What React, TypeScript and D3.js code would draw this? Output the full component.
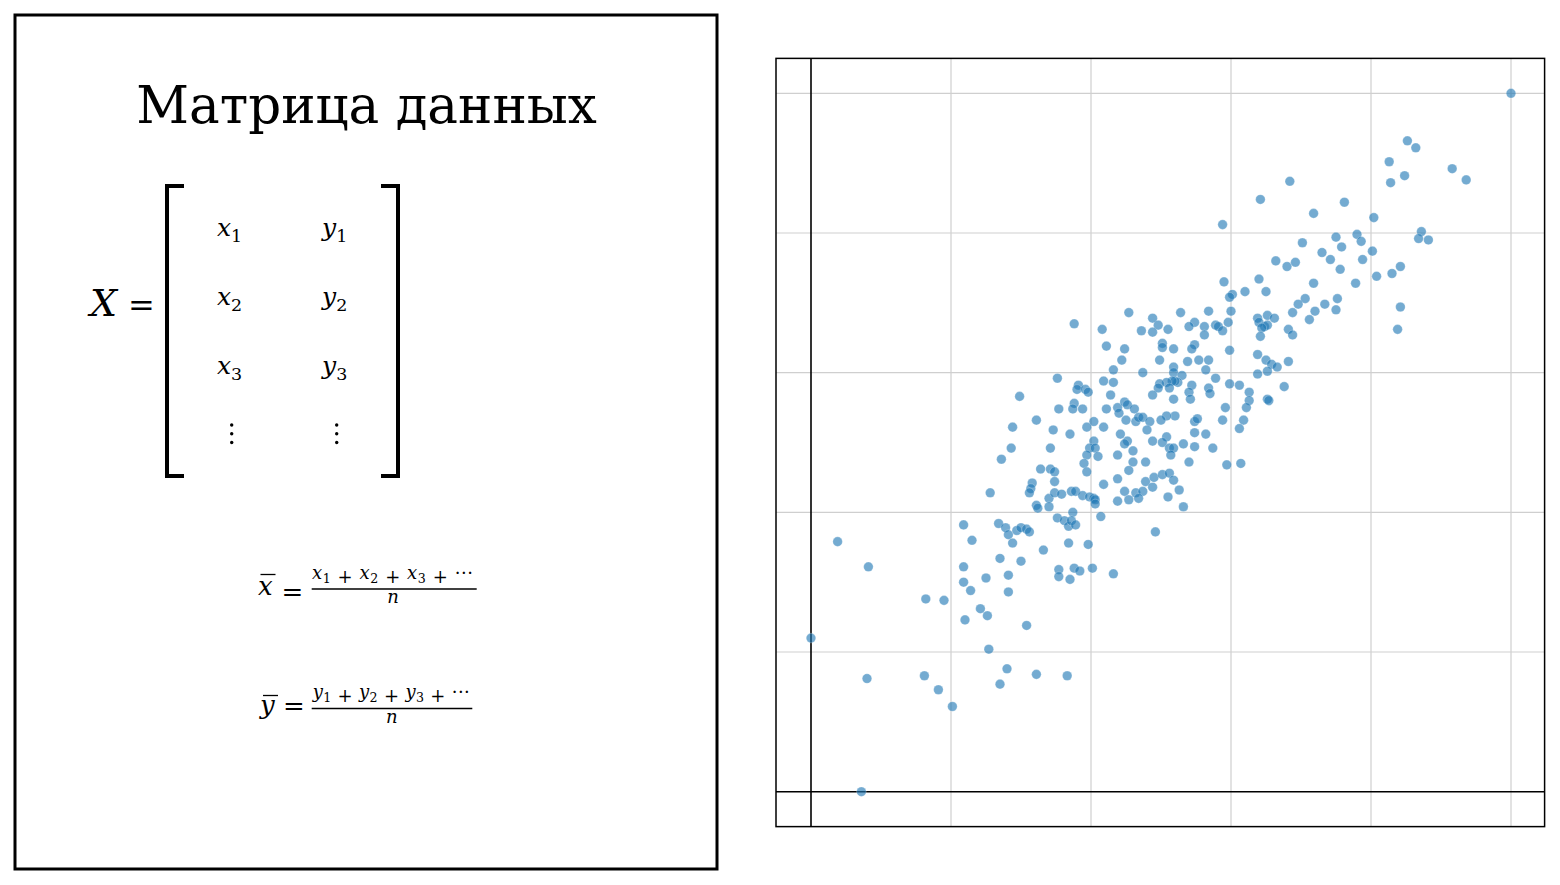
import React from "react";
import * as d3 from "d3";

// ---- data (scaled feature values) ----
const featureX: number[] = [
  5.00,4.26,4.32,4.13,4.24,4.14,4.58,4.68,3.81,3.59,4.02,3.75,3.90,3.93,3.79,3.51,3.65,3.71,3.94,4.01,4.36,4.34,4.41,4.21,4.15,4.04,3.78,3.59,3.89,3.53,3.48,3.76,3.67,3.60,3.75,3.56,4.21,4.19,
  3.42,3.21,2.94,3.32,3.40,3.46,2.95,3.20,3.25,3.10,3.01,2.99,
  2.64,2.84,3.00,2.44,2.48,2.44,2.55,2.74,2.70,2.81,2.89,2.91,2.98,2.94,2.81,2.51,2.51,2.59,2.74,2.72,2.99,2.49,2.59,2.69,2.77,2.84,2.82,2.59,2.65,2.62,2.60,2.58,2.54,2.49,2.48,2.56,2.72,2.89,2.99,3.06,2.44,2.59,2.70,2.71,2.84,2.85,2.96,3.13,3.13,3.11,3.09,3.06,2.94,2.74,2.76,2.60,2.54,2.50,2.74,2.82,2.54,2.51,2.56,2.59,2.66,2.74,2.87,2.44,2.57,2.70,
  3.19,3.20,3.26,3.31,3.24,3.26,3.22,3.21,3.41,3.44,3.44,3.19,3.25,3.29,3.33,3.26,3.19,3.41,3.38,3.26,3.27,
  2.27,1.88,2.08,2.36,2.11,2.24,2.22,2.16,2.37,1.76,2.09,2.16,1.91,1.90,1.96,1.98,1.49,2.14,1.88,1.87,1.94,1.77,2.11,2.19,2.24,2.26,2.31,2.20,1.61,2.02,2.09,1.97,1.73,1.85,2.25,2.32,2.34,2.37,2.42,2.40,2.21,1.44,2.26,2.24,2.30,1.43,1.71,2.02,1.99,2.03,1.97,2.05,2.19,1.36,
  1.64,1.71,1.74,1.95,2.30,2.39,2.27,1.97,1.74,2.19,2.39,2.09,2.44,1.58,1.57,1.56,1.28,2.24,2.32,2.37,2.34,2.27,2.19,1.70,1.74,1.79,1.86,1.89,1.94,1.99,2.02,2.03,2.03,2.07,1.61,1.62,1.70,1.87,1.76,1.81,1.84,1.86,1.89,1.09,1.34,1.39,1.41,1.47,1.50,1.54,1.56,1.44,1.15,1.66,1.84,1.98,1.35,1.50,1.09,1.25,1.41,1.77,1.77,1.85,1.88,1.92,2.01,2.16,1.09,1.14,1.41,
  2.97,3.07,2.45,2.51,2.56,2.59,2.63,2.55,2.66,2.46,
  0.19,0.41,0.82,0.95,1.21,1.26,1.10,1.54,0.00,1.27,1.40,1.61,1.83,0.40,0.81,1.35,0.91,1.01,0.36,
];

const featureY: number[] = [
  5.00,4.66,4.61,4.51,4.41,4.36,4.46,4.38,4.22,4.14,4.11,3.97,3.99,3.94,3.90,3.93,3.86,3.81,3.81,3.87,4.01,3.96,3.95,3.76,3.71,3.69,3.74,3.64,3.64,3.53,3.49,3.53,3.49,3.44,3.45,3.38,3.47,3.31,
  4.37,4.24,4.06,3.80,3.76,3.79,3.65,3.67,3.58,3.58,3.56,3.54,
  3.43,3.44,3.44,3.39,3.34,3.29,3.31,3.36,3.33,3.33,3.34,3.33,3.36,3.30,3.27,3.21,3.18,3.17,3.20,3.17,3.16,3.09,3.04,3.08,3.09,3.09,3.02,3.00,2.98,2.93,2.94,2.94,2.93,2.92,2.89,2.89,2.91,2.96,2.92,2.91,2.84,2.81,2.86,2.81,2.89,2.85,2.75,2.86,2.80,2.75,2.66,2.60,2.66,2.65,2.67,2.69,2.69,2.66,2.57,2.56,2.54,2.50,2.46,2.46,2.49,2.47,2.46,2.51,2.41,2.36,
  3.39,3.36,3.41,3.39,3.33,3.34,3.32,3.26,3.31,3.27,3.43,3.13,3.09,3.06,3.04,3.01,2.99,3.08,2.90,2.81,2.80,
  3.43,3.35,3.31,3.30,3.19,3.17,3.09,3.02,3.00,2.96,2.94,2.93,2.91,2.88,2.88,2.86,2.83,2.84,2.78,2.74,2.74,2.74,2.74,2.75,2.79,2.77,2.74,2.71,2.66,2.65,2.61,2.61,2.59,2.56,2.66,2.65,2.68,2.68,2.65,2.59,2.56,2.61,2.51,2.49,2.44,2.46,2.46,2.51,2.46,2.46,2.41,2.40,2.41,2.38,
  2.31,2.31,2.29,2.35,2.36,2.36,2.30,2.29,2.22,2.24,2.22,2.20,2.18,2.21,2.17,2.14,2.14,2.15,2.14,2.15,2.10,2.09,2.08,2.10,2.14,2.13,2.15,2.15,2.12,2.11,2.10,2.09,2.06,1.97,2.05,2.03,2.04,2.00,1.96,1.94,1.90,1.94,1.91,1.91,1.92,1.89,1.84,1.87,1.89,1.88,1.86,1.78,1.80,1.73,1.78,1.77,1.67,1.65,1.61,1.53,1.55,1.59,1.54,1.52,1.60,1.58,1.60,1.56,1.50,1.44,1.43,
  2.34,2.35,2.25,2.27,2.28,2.23,2.16,2.11,2.04,1.86,
  1.79,1.61,1.38,1.37,1.31,1.26,1.23,1.19,1.10,1.02,0.88,0.84,0.83,0.81,0.83,0.77,0.73,0.61,0.00,
];

const gridTicks: number[] = [1, 2, 3, 4, 5];
const titleText = "Матрица данных";
const matrixRows: string[] = ["1", "2", "3"];
const matrixCols: string[] = ["x", "y"];

const W = 1560;
const H = 885;
const MATH = "'DejaVu Serif', serif";

function Sub({ v, s, x, y, size }: { v: string; s: string; x: number; y: number; size: number }) {
  return (
    <text x={x} y={y} fontFamily={MATH} fontSize={size}>
      <tspan fontStyle="italic">{v}</tspan>
      <tspan fontSize={size * 0.7} dy={size * 0.22}>{s}</tspan>
    </text>
  );
}

function Numerator({ v, x, y, size, len }: { v: string; x: number; y: number; size: number; len: number }) {
  const d = size * 0.22;
  const parts: React.ReactNode[] = [];
  matrixRows.forEach((s, i) => {
    parts.push(<tspan key={"v" + i} fontStyle="italic" dy={i === 0 ? 0 : -d}>{v}</tspan>);
    parts.push(<tspan key={"s" + i} fontSize={size * 0.7} dy={d}>{s}</tspan>);
    parts.push(<tspan key={"p" + i} dy={0}>{" + "}</tspan>);
  });
  parts.push(<tspan key="dots" dy={-d}>{"···"}</tspan>);
  return (
    <text x={x} y={y} fontFamily={MATH} fontSize={size} textLength={len} lengthAdjust="spacing">
      {parts}
    </text>
  );
}

export default function App() {
  const xScale = d3.scaleLinear().domain([0, 5]).range([811, 1511]);
  const yScale = d3.scaleLinear().domain([0, 5]).range([791.7, 93.3]);
  const fx0 = xScale(-0.25), fx1 = xScale(5.24);
  const fy0 = yScale(5.25), fy1 = yScale(-0.25);

  const points = featureX.map((v, i) => ({ x: v, y: featureY[i] }));

  const rowY = d3.scaleLinear().domain([0, 1]).range([236, 305]);
  const colX = [217, 322];

  return (
    <svg width={W} height={H} style={{ position: "absolute", left: 0, top: 0, background: "#fff" }}>
      <rect x={0} y={0} width={W} height={H} fill="#fff" />

      {/* Left panel */}
      <rect x={15} y={15} width={702} height={854} fill="none" stroke="#000" strokeWidth={3} />
      <text x={366.5} y={123} textAnchor="middle" fontFamily="'DejaVu Serif', serif" fontSize={51.5}>
        {titleText}
      </text>

      <text x={90} y={316} fontFamily={MATH} fontSize={38} fontStyle="italic">X</text>
      <text x={141.5} y={315.5} textAnchor="middle" fontFamily={MATH} fontSize={32}>=</text>

      <path d="M184,186 H167 V476 H184" fill="none" stroke="#000" strokeWidth={4} />
      <path d="M381,186 H398 V476 H381" fill="none" stroke="#000" strokeWidth={4} />

      {matrixRows.map((s, r) =>
        matrixCols.map((c, k) => (
          <Sub key={r + c} v={c} s={s} x={colX[k]} y={rowY(r)} size={25} />
        ))
      )}
      {[231.7, 336.7].map((cx) =>
        [425, 433.7, 442.5].map((cy) => <circle key={cx + "-" + cy} cx={cx} cy={cy} r={1.7} fill="#000" />)
      )}

      {/* mean of x */}
      <text x={258} y={595} fontFamily={MATH} fontSize={26} fontStyle="italic">x</text>
      <line x1={260.5} x2={275.5} y1={574.5} y2={574.5} stroke="#000" strokeWidth={1.3} />
      <text x={292.5} y={600.5} textAnchor="middle" fontFamily={MATH} fontSize={26}>=</text>
      <Numerator v="x" x={312} y={579} size={18} len={161} />
      <line x1={311.7} x2={476.7} y1={589} y2={589} stroke="#000" strokeWidth={1.3} />
      <text x={393} y={603} textAnchor="middle" fontFamily={MATH} fontSize={18} fontStyle="italic">n</text>

      {/* mean of y */}
      <text x={260} y={714} fontFamily={MATH} fontSize={26} fontStyle="italic">y</text>
      <line x1={263} x2={278} y1={695.5} y2={695.5} stroke="#000" strokeWidth={1.3} />
      <text x={294} y={715} textAnchor="middle" fontFamily={MATH} fontSize={26}>=</text>
      <Numerator v="y" x={312.7} y={698} size={18} len={157} />
      <line x1={311.7} x2={472.3} y1={708.5} y2={708.5} stroke="#000" strokeWidth={1.3} />
      <text x={391.7} y={722.7} textAnchor="middle" fontFamily={MATH} fontSize={18} fontStyle="italic">n</text>

      {/* Scatter panel */}
      <g>
        {gridTicks.map((t) => (
          <line key={"gx" + t} x1={xScale(t)} x2={xScale(t)} y1={fy0} y2={fy1} stroke="#cfcfcf" strokeWidth={1.2} />
        ))}
        {gridTicks.map((t) => (
          <line key={"gy" + t} x1={fx0} x2={fx1} y1={yScale(t)} y2={yScale(t)} stroke="#cfcfcf" strokeWidth={1.2} />
        ))}
        <line x1={xScale(0)} x2={xScale(0)} y1={fy0} y2={fy1} stroke="#000" strokeWidth={1.6} />
        <line x1={fx0} x2={fx1} y1={yScale(0)} y2={yScale(0)} stroke="#000" strokeWidth={1.6} />
        {points.map((p, i) => (
          <circle
            key={i}
            cx={xScale(p.x)}
            cy={yScale(p.y)}
            r={4.8}
            fill="#1f77b4"
            fillOpacity={0.62}
            stroke="#ffffff"
            strokeOpacity={0.5}
            strokeWidth={0.5}
          />
        ))}
        <rect x={fx0} y={fy0} width={fx1 - fx0} height={fy1 - fy0} fill="none" stroke="#000" strokeWidth={1.5} />
      </g>
    </svg>
  );
}
